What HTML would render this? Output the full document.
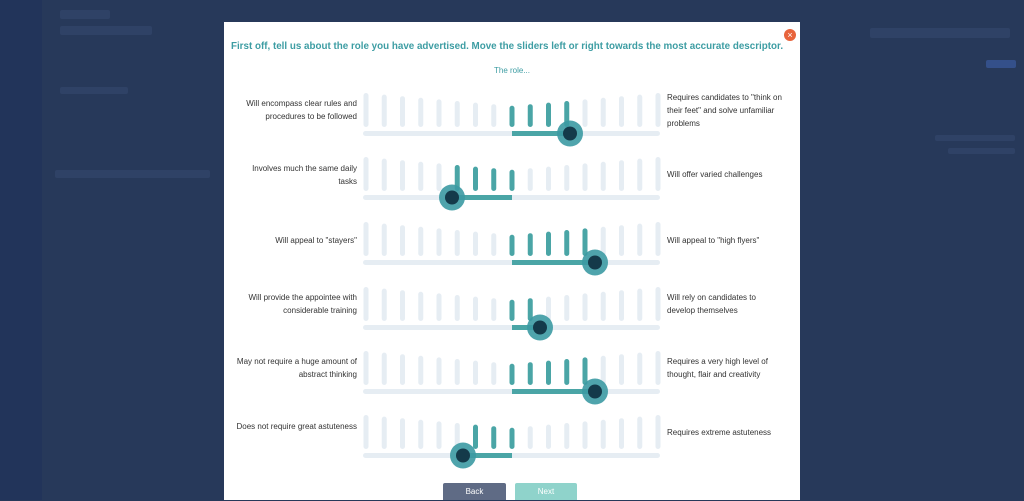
<!DOCTYPE html>
<html><head><meta charset="utf-8"><style>
body{margin:0;width:1024px;height:500px;overflow:hidden;background:#27395a;font-family:"Liberation Sans",sans-serif;position:relative}
.side{position:absolute;left:0;top:0;width:42px;height:500px;background:#22345a}
.modal{position:absolute;left:224px;top:22px;width:576px;height:478px;background:#fff}
.t{position:absolute;font-size:8px;color:#333;line-height:13px}
.l{text-align:right;width:122px;left:235px}
.r{left:667px;width:115px}
.faint{position:absolute;background:#2f4266;border-radius:2px}
</style></head><body>
<div class="side"></div>
<div class="faint" style="left:60px;top:10px;width:50px;height:9px"></div>
<div class="faint" style="left:60px;top:26px;width:92px;height:9px"></div>
<div class="faint" style="left:60px;top:87px;width:68px;height:7px"></div>
<div class="faint" style="left:55px;top:170px;width:155px;height:8px"></div>
<div class="faint" style="left:870px;top:28px;width:140px;height:10px"></div>
<div class="faint" style="left:935px;top:135px;width:80px;height:6px"></div>
<div class="faint" style="left:948px;top:148px;width:67px;height:6px"></div>
<div class="faint" style="left:986px;top:60px;width:30px;height:8px;background:#34508a"></div>
<div class="modal"></div>
<div style="position:absolute;left:784px;top:29px;width:12px;height:12px;border-radius:50%;background:#e8643c;color:#fff;font-size:9px;line-height:12px;text-align:center">×</div>
<div style="position:absolute;left:0;top:40px;width:1014px;text-align:center;color:#3d9da3;font-weight:bold;font-size:10.5px;white-space:nowrap;transform:scaleX(0.935);transform-origin:507px 0">First off, tell us about the role you have advertised. Move the sliders left or right towards the most accurate descriptor.</div>
<div style="position:absolute;left:224px;top:66px;width:576px;text-align:center;color:#3d9da3;font-size:8px">The role...</div>
<div class="t l" style="top:97px">Will encompass clear rules and procedures to be followed</div>
<div class="t r" style="top:91px">Requires candidates to "think on their feet" and solve unfamiliar problems</div>
<div class="t l" style="top:162px">Involves much the same daily tasks</div>
<div class="t r" style="top:168px">Will offer varied challenges</div>
<div class="t l" style="top:234px">Will appeal to "stayers"</div>
<div class="t r" style="top:234px">Will appeal to "high flyers"</div>
<div class="t l" style="top:291px">Will provide the appointee with considerable training</div>
<div class="t r" style="top:291px">Will rely on candidates to develop themselves</div>
<div class="t l" style="top:355px">May not require a huge amount of abstract thinking</div>
<div class="t r" style="top:355px">Requires a very high level of thought, flair and creativity</div>
<div class="t l" style="top:420px">Does not require great astuteness</div>
<div class="t r" style="top:426px">Requires extreme astuteness</div>
<svg id="s" width="1024" height="500" style="position:absolute;left:0;top:0"></svg>
<div style="position:absolute;left:443px;top:483px;width:63px;height:17px;background:#5f6b85;color:#fff;font-size:8px;text-align:center;line-height:18px;border-radius:2px 2px 0 0">Back</div>
<div style="position:absolute;left:515px;top:483px;width:62px;height:17px;background:#8fd3cb;color:#fff;font-size:8px;text-align:center;line-height:18px;border-radius:2px 2px 0 0">Next</div>
<script>
var rows=[[93,570],[157,452],[222,595],[287,540],[351,595],[415,463]];
var h='';
rows.forEach(function(r){
 var y=r[0],k=r[1],c=512,ty=y+38;
 h+='<rect x="363" y="'+(ty)+'" width="297" height="5" rx="2.5" fill="#e6edf3"/>';
 for(var i=0;i<17;i++){
  var x=366+i*18.25,d=Math.abs(i-8),top=y+(8-d)*1.6,bot=y+34;
  var teal=(k>c)?(x>=c-2&&x<=k+4):(x<=c+2&&x>=k-4);
  var col=teal?'#4aa5a6':'#e6edf3';
  h+='<rect x="'+(x-2.5)+'" y="'+top+'" width="5" height="'+(bot-top)+'" rx="2.5" fill="'+col+'"/>';
 }
 var a=Math.min(c,k),b=Math.max(c,k);
 h+='<rect x="'+a+'" y="'+ty+'" width="'+(b-a)+'" height="5" fill="#4aa5a6"/>';
 h+='<circle cx="'+k+'" cy="'+(ty+2.5)+'" r="13" fill="#3c9aa3" opacity="0.9"/><circle cx="'+k+'" cy="'+(ty+2.5)+'" r="7" fill="#143a4a"/>';
});
document.getElementById('s').innerHTML=h;
</script>
</body></html>
